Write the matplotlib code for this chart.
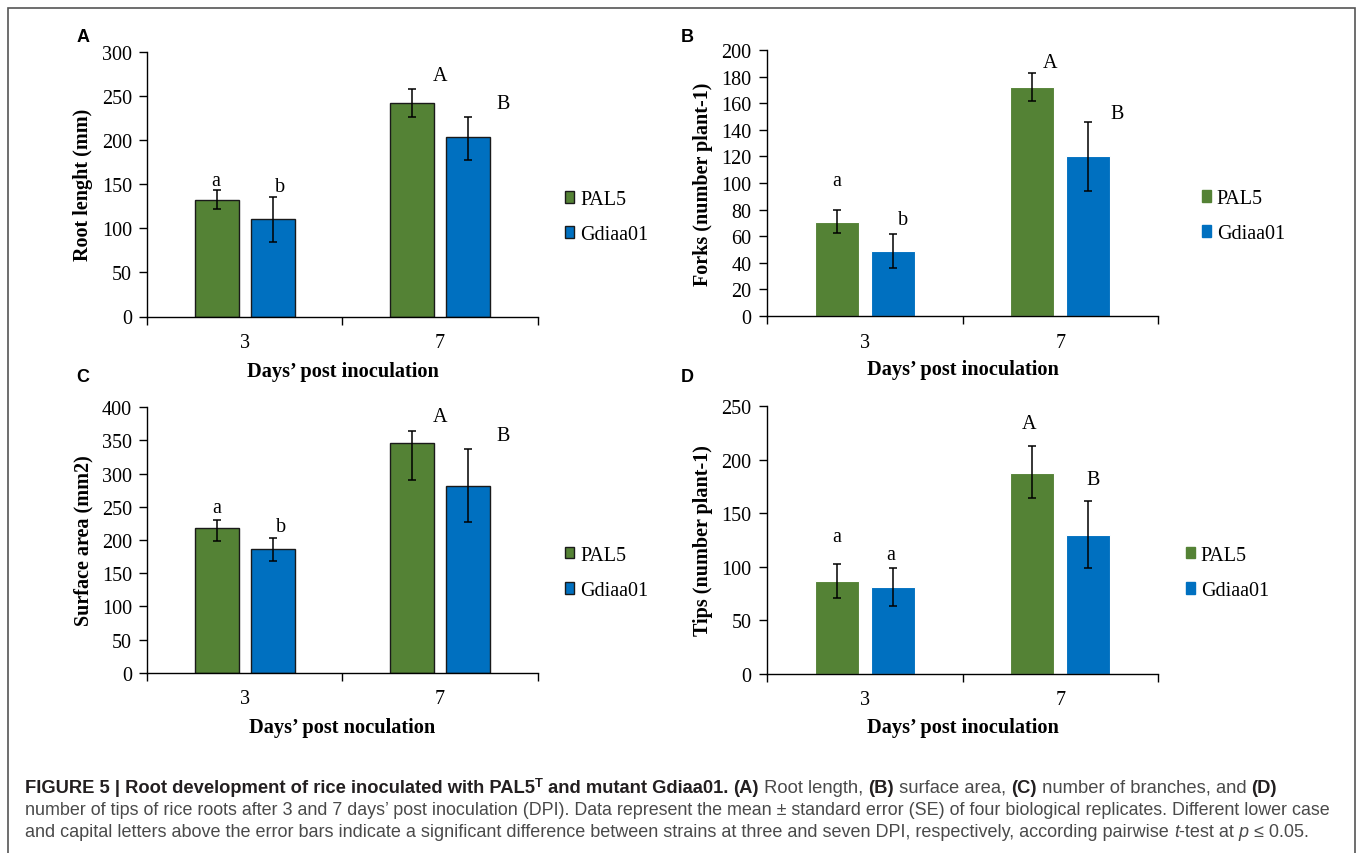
import numpy as np
import matplotlib.pyplot as plt
from matplotlib.patches import Rectangle, Patch

plt.rcParams['font.family'] = ['Liberation Serif', 'DejaVu Serif']

W, H = 1358, 854

days = ["3", "7"]
strains = ["PAL5", "Gdiaa01"]

# A - root length
root_pal5 = [132, 242]
root_gdiaa = [110, 203]
root_pal5_err = [[10, 16], [11, 16]]      # [lower, upper]
root_gdiaa_err = [[25.5, 26], [25.5, 23]]
root_letters = [["a", "A"], ["b", "B"]]

# B - forks
forks_pal5 = [71, 172]
forks_gdiaa = [49, 120]
forks_pal5_err = [[8.5, 10.5], [8.5, 10.5]]
forks_gdiaa_err = [[13, 26], [13, 26]]
forks_letters = [["a", "A"], ["b", "B"]]

# C - surface area
area_pal5 = [218, 346]
area_gdiaa = [186, 282]
area_pal5_err = [[20, 55], [12, 18]]
area_gdiaa_err = [[18, 55], [17, 55]]
area_letters = [["a", "A"], ["b", "B"]]

# D - tips
tips_pal5 = [87, 188]
tips_gdiaa = [81, 130]
tips_pal5_err = [[16, 24], [16, 24.5]]
tips_gdiaa_err = [[17.5, 31.5], [17.5, 31.5]]
tips_letters = [["a", "A"], ["a", "B"]]

GREEN = "#548235"
BLUE = "#0070C0"


def px_axes(left, top, right, bottom):
    return [left / W, (H - bottom) / H, (right - left) / W, (bottom - top) / H]


def draw_panel(ax, pal5, gdiaa, pal5_err, gdiaa_err, letters, offsets,
               ymax, ystep, ylabel, xlabel, outlined, leg_pos):
    x = np.arange(len(days))
    w = 0.225
    shift = w / 2 + 0.03
    ec = "#1a1a1a" if outlined else "white"
    lw = 1.0 if outlined else 0.8
    series = [(pal5, pal5_err, GREEN, -shift), (gdiaa, gdiaa_err, BLUE, shift)]
    for k, (vals, err, col, dx) in enumerate(series):
        ax.bar(x + dx, vals, w, color=col, edgecolor=ec, linewidth=lw, zorder=2)
        ax.errorbar(x + dx, vals, yerr=err, fmt="none", ecolor="black",
                    elinewidth=1.1, capsize=3, capthick=1.1, zorder=3)
        for i in range(len(days)):
            top = vals[i] + err[1][i]
            ox, oy = offsets[k][i]
            ax.annotate(letters[k][i], (x[i] + dx, top),
                        xytext=(ox * 0.72, oy * 0.72), textcoords="offset points",
                        ha="center", va="center", fontsize=14.5)

    ax.set_xlim(-0.5, len(days) - 0.5)
    ax.set_ylim(0, ymax)
    ax.set_yticks(np.arange(0, ymax + 1, ystep))
    ax.set_xticks(np.arange(-0.5, len(days)))
    ax.set_xticklabels([])
    ax.set_xticks(x, minor=True)
    ax.set_xticklabels(days, minor=True)
    ax.tick_params(axis="x", which="major", length=6, width=1, direction="out")
    ax.tick_params(axis="x", which="minor", length=0, pad=12, labelsize=14.5)
    ax.tick_params(axis="y", length=6, width=1, pad=5, labelsize=14.5)
    for s in ["top", "right"]:
        ax.spines[s].set_visible(False)
    for s in ["left", "bottom"]:
        ax.spines[s].set_linewidth(1.0)
    ax.set_ylabel(ylabel, fontsize=14.5, fontweight="bold", va="center")
    ax.set_xlabel(xlabel, fontsize=14.7, fontweight="bold", va="center")

    handles = [Patch(facecolor=GREEN, edgecolor=ec if outlined else GREEN, linewidth=1.0),
               Patch(facecolor=BLUE, edgecolor=ec if outlined else BLUE, linewidth=1.0)]
    ax.legend(handles, strains, loc="center left", bbox_to_anchor=leg_pos,
              frameon=False, fontsize=14.5, handlelength=0.45, handleheight=0.5,
              handletextpad=0.3, labelspacing=0.8, borderpad=0, borderaxespad=0)


fig = plt.figure(figsize=(W / 100, H / 100), dpi=100)

axA = fig.add_axes(px_axes(147.3, 52.5, 537.6, 317.5))
axB = fig.add_axes(px_axes(767, 51, 1158, 317))
axC = fig.add_axes(px_axes(147.3, 408.3, 537.6, 673.7))
axD = fig.add_axes(px_axes(767, 407.3, 1158, 674.7))

draw_panel(axA, root_pal5, root_gdiaa, root_pal5_err, root_gdiaa_err, root_letters,
           [[(-1, 10), (28, 13)], [(7, 10), (35, 13)]],
           300, 50, "Root lenght (mm)", "Days\u2019 post inoculation", True, (1.070, 0.375))
draw_panel(axB, forks_pal5, forks_gdiaa, forks_pal5_err, forks_gdiaa_err, forks_letters,
           [[(0, 30), (18, 10.6)], [(10, 14), (29, 8)]],
           200, 20, "Forks (number plant-1)", "Days\u2019 post inoculation", False, (1.112, 0.376))
draw_panel(axC, area_pal5, area_gdiaa, area_pal5_err, area_gdiaa_err, area_letters,
           [[(0, 13), (28, 15)], [(8, 12), (35, 14)]],
           400, 50, "Surface area (mm2)", "Days\u2019 post noculation", True, (1.070, 0.376))
draw_panel(axD, tips_pal5, tips_gdiaa, tips_pal5_err, tips_gdiaa_err, tips_letters,
           [[(0, 27), (-3, 23)], [(-2, 14), (5, 21)]],
           250, 50, "Tips (number plant-1)", "Days\u2019 post inoculation", False, (1.071, 0.377))

for ax in (axA, axC):
    ax.xaxis.set_label_coords(0.5, -54 / 265)
    ax.yaxis.set_label_coords(-64.3 / 390.3, 0.5)
for ax in (axB, axD):
    ax.xaxis.set_label_coords(0.5, -53.5 / 266)
    ax.yaxis.set_label_coords(-64 / 391, 0.5)

# panel letters
for lab, px, py in [("A", 83, 37), ("B", 687, 37), ("C", 83, 378), ("D", 687, 378)]:
    fig.text(px / W, 1 - py / H, lab, family="Liberation Sans", fontweight="bold",
             fontsize=13, ha="center", va="center")

# frame
fig.add_artist(Rectangle((8 / W, -0.05), (1355 - 8) / W, 0.05 + (H - 9) / H,
                         transform=fig.transFigure, fill=False,
                         edgecolor="#555555", linewidth=1.2))

# caption
DARK = "#231f20"
GREY = "#4a4a4a"
CAP = 12.5
renderer = fig.canvas.get_renderer()


def caption_line(x0, ybase, runs, width):
    # draw once to measure, then redraw scaled to fit the line width
    texts = []
    total = 0
    for txt, weight, style, size, rise, col in runs:
        t = fig.text(0, 0, txt, family="Liberation Sans", fontweight=weight,
                     style=style, fontsize=size)
        total += t.get_window_extent(renderer).width
        texts.append(t)
    for t in texts:
        t.remove()
    k = width / total
    x = x0
    for txt, weight, style, size, rise, col in runs:
        t = fig.text(x / W, 1 - (ybase - rise * k) / H, txt, family="Liberation Sans",
                     fontweight=weight, style=style, fontsize=size * k, color=col,
                     ha="left", va="baseline")
        x += t.get_window_extent(renderer).width


b = ("bold", "normal", CAP, 0, DARK)
r = ("normal", "normal", CAP, 0, GREY)
caption_line(25, 793, [
    ("FIGURE 5 | Root development of rice inoculated with PAL5",) + b,
    ("T", "bold", "normal", CAP * 0.7, 6, DARK),
    (" and mutant Gdiaa01. ",) + b, ("(A)",) + b,
    (" Root length, ",) + r, ("(B)",) + b,
    (" surface area, ",) + r, ("(C)",) + b,
    (" number of branches, and ",) + r, ("(D)",) + b,
], 1255)
caption_line(25, 815.5, [
    ("number of tips of rice roots after 3 and 7 days\u2019 post inoculation (DPI). Data represent the mean \u00b1 "
     "standard error (SE) of four biological replicates. Different lower case",) + r,
], 1312)
caption_line(25, 837.5, [
    ("and capital letters above the error bars indicate a significant difference between strains at three and "
     "seven DPI, respectively, according pairwise ",) + r,
    ("t", "normal", "italic", CAP, 0, GREY),
    ("-test at ",) + r,
    ("p", "normal", "italic", CAP, 0, GREY),
    (" \u2264 0.05.",) + r,
], 1288)

fig.savefig("out.png", dpi=100)
